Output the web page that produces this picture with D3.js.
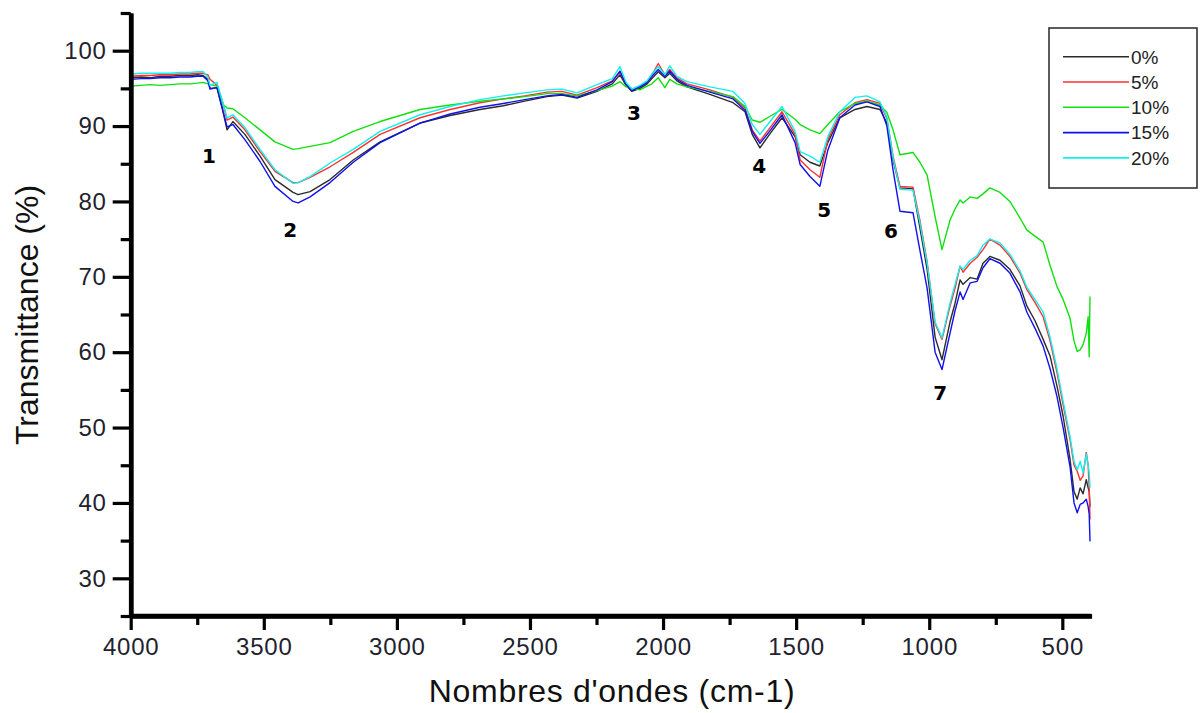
<!DOCTYPE html>
<html>
<head>
<meta charset="utf-8">
<script src="https://cdn.jsdelivr.net/npm/d3@7"></script>
<style>
  body { margin: 0; background: #fff; }
  svg { display: block; }
  .tick text { font-family: "Liberation Sans", Arial, sans-serif; fill: #22222e; }
</style>
</head>
<body>
<div class="ftir-chart"></div>
<script>
// wavenumbers (cm-1), shared by every spectrum
let wavenumbers = [4000, 3960, 3927, 3890, 3852, 3815, 3777, 3750, 3728, 3710, 3702, 3676, 3657, 3638, 3616, 3571, 3514, 3458, 3390, 3371,
  3326, 3251, 3164, 3063, 2913, 2800, 2688, 2600, 2520, 2436, 2380, 2323, 2248, 2191, 2162, 2139, 2117, 2087, 2060, 2042,
  2018, 1993, 1975, 1948, 1910, 1824, 1737, 1692, 1665, 1636, 1598, 1553, 1504, 1485, 1448, 1411, 1381, 1336, 1279, 1234,
  1185, 1159, 1136, 1110, 1061, 1035, 1008, 978, 952, 922, 903, 884, 873, 846, 820, 798, 772, 734, 697, 659,
  633, 603, 572, 546, 520, 497, 471, 456, 444, 433, 422, 410, 403, 399, 396];

let t0 = [96.4, 96.5, 96.4, 96.6, 96.6, 96.7, 96.7, 96.8, 96.7, 96.2, 95.0, 95.1, 92.5, 89.5, 90.6, 88.9, 86.0, 82.9, 81.2, 80.9,
  81.3, 82.9, 85.5, 87.9, 90.4, 91.4, 92.2, 92.7, 93.3, 93.9, 94.1, 93.7, 94.6, 95.6, 96.8, 95.4, 94.6, 95.0, 95.6, 96.3,
  97.2, 96.4, 97.0, 96.0, 95.2, 94.2, 93.1, 91.9, 88.9, 87.1, 89.0, 91.1, 88.6, 86.2, 85.2, 84.7, 87.8, 91.1, 92.2, 92.6,
  92.2, 90.4, 85.5, 81.8, 81.7, 76.5, 71.0, 62.0, 59.0, 64.0, 66.5, 69.6, 69.0, 69.9, 69.7, 71.8, 72.7, 72.2, 71.0, 68.8,
  66.1, 64.2, 61.7, 59.5, 55.5, 51.5, 45.8, 41.5, 40.5, 42.0, 41.2, 43.1, 42.0, 41.5, 39.5];

let t5 = [96.6, 96.7, 96.7, 96.8, 96.8, 96.9, 96.9, 97.0, 97.0, 96.8, 96.2, 95.4, 93.5, 90.8, 91.2, 89.5, 86.6, 84.0, 82.5, 82.5,
  83.2, 84.6, 86.5, 88.9, 91.1, 92.2, 93.1, 93.6, 94.0, 94.5, 94.6, 94.1, 95.1, 96.0, 97.2, 95.6, 94.8, 95.3, 95.9, 96.8,
  98.3, 96.8, 97.5, 96.4, 95.6, 94.8, 93.8, 92.4, 89.5, 88.0, 89.8, 91.9, 88.9, 85.5, 84.2, 83.2, 88.2, 91.5, 93.1, 93.5,
  93.0, 91.0, 86.0, 82.0, 81.9, 77.5, 72.0, 63.8, 61.7, 66.1, 68.5, 71.4, 70.6, 71.8, 72.6, 73.6, 75.0, 74.2, 72.7, 70.5,
  68.3, 66.6, 64.7, 61.5, 57.3, 53.0, 48.4, 45.0, 44.2, 43.0, 43.6, 46.7, 45.0, 42.0, 37.8];

let t10 = [95.3, 95.4, 95.5, 95.4, 95.5, 95.6, 95.6, 95.7, 95.8, 95.6, 95.5, 95.3, 93.0, 92.4, 92.3, 91.1, 89.5, 87.9, 86.9, 87.0,
  87.3, 87.8, 89.3, 90.6, 92.2, 92.8, 93.3, 93.6, 93.9, 94.3, 94.3, 94.0, 94.7, 95.3, 95.9, 95.2, 95.0, 94.8, 95.3, 95.6,
  96.4, 95.1, 96.2, 95.6, 95.2, 94.6, 93.9, 92.6, 90.8, 90.5, 91.3, 92.2, 90.9, 90.2, 89.5, 89.0, 90.2, 91.9, 93.0, 93.3,
  92.8, 91.8, 89.5, 86.2, 86.5, 85.2, 83.5, 78.0, 73.6, 77.5, 79.0, 80.2, 79.8, 80.6, 80.4, 81.0, 81.8, 81.2, 80.0, 77.8,
  76.2, 75.4, 74.6, 71.5, 68.7, 67.0, 64.5, 61.5, 60.1, 60.3, 61.0, 62.5, 64.7, 59.4, 67.4];

let t15 = [96.2, 96.3, 96.3, 96.4, 96.4, 96.5, 96.5, 96.6, 96.6, 96.0, 94.9, 95.1, 92.5, 89.9, 90.2, 88.2, 85.3, 82.0, 80.0, 79.8,
  80.6, 82.5, 85.2, 87.8, 90.4, 91.6, 92.5, 93.0, 93.5, 94.0, 94.2, 93.8, 94.8, 95.9, 97.3, 95.5, 94.7, 95.2, 95.8, 96.6,
  97.5, 96.6, 97.3, 96.2, 95.4, 94.5, 93.6, 92.1, 89.3, 87.7, 89.4, 91.5, 87.8, 84.9, 83.3, 82.0, 86.8, 91.1, 92.8, 93.2,
  92.6, 90.0, 84.2, 78.7, 78.5, 73.5, 68.5, 60.0, 57.7, 62.5, 65.5, 68.0, 67.0, 69.2, 69.4, 71.2, 72.4, 71.8, 70.5, 68.0,
  65.3, 63.2, 60.8, 57.8, 54.1, 50.0, 44.8, 40.0, 38.7, 39.8, 40.0, 40.5, 39.5, 38.5, 34.9];

let t20 = [96.9, 97.0, 97.0, 97.0, 97.0, 97.1, 97.1, 97.2, 97.2, 96.5, 95.4, 95.8, 93.5, 91.1, 91.5, 89.8, 86.9, 84.2, 82.4, 82.5,
  83.3, 85.1, 86.9, 89.3, 91.5, 92.6, 93.5, 94.0, 94.4, 94.8, 94.9, 94.4, 95.5, 96.3, 97.9, 95.8, 94.9, 95.4, 96.0, 96.9,
  97.9, 96.8, 98.0, 96.6, 95.9, 95.2, 94.6, 93.0, 90.2, 88.9, 90.6, 92.6, 89.3, 86.6, 86.0, 85.2, 88.6, 91.9, 93.8, 94.0,
  93.2, 91.2, 85.8, 81.6, 81.5, 77.2, 71.8, 64.0, 61.9, 66.5, 69.0, 71.4, 71.0, 72.2, 72.8, 74.2, 75.0, 74.5, 73.0, 70.8,
  68.6, 67.0, 65.3, 62.0, 57.8, 53.5, 48.8, 45.5, 44.4, 45.5, 44.0, 46.5, 45.0, 44.0, 42.0];

let seriesNames = ["0%", "5%", "10%", "15%", "20%"];
let seriesColors = ["#2b2b2b", "#ff3030", "#10e010", "#1010ee", "#10f0f0"];

let xTicks = [4000, 3500, 3000, 2500, 2000, 1500, 1000, 500];
let xMinorTicks = [3750, 3250, 2750, 2250, 1750, 1250, 750];
let yTicks = [30, 40, 50, 60, 70, 80, 90, 100];
let yMinorTicks = [25, 35, 45, 55, 65, 75, 85, 95, 105];

// band labels: number, wavenumber, transmittance
let bandLabels = ["1", "2", "3", "4", "5", "6", "7"];
let bandWn = [3706, 3401, 2109, 1639, 1395, 1144, 959];
let bandT = [86.0, 76.3, 91.7, 84.7, 78.9, 76.1, 54.6];

let width = 1200,
    height = 713;

let x = d3.scaleLinear().domain([4000, 390]).range([130.7, 1091.6]);
let y = d3.scaleLinear().domain([25, 105]).range([616, 13]);

let svg = d3.select("div.ftir-chart").append("svg")
    .attr("width", width)
    .attr("height", height);

// spectra
let allSeries = [t0, t5, t10, t15, t20];
let line = d3.line()
    .x(function(d) { return x(d[0]); })
    .y(function(d) { return y(d[1]); });

svg.append("g").selectAll("path")
    .data(allSeries)
  .enter().append("path")
    .attr("d", function(s) { return line(s.map(function(v, i) { return [wavenumbers[i], v]; })); })
    .attr("fill", "none")
    .attr("stroke", function(s, i) { return seriesColors[i]; })
    .attr("stroke-width", 1.4)
    .attr("stroke-linejoin", "round");

// axes
let xAxisY = y(25);
let xMinor = svg.append("g")
    .attr("transform", "translate(0," + xAxisY + ")")
    .call(d3.axisBottom(x).tickValues(xMinorTicks).tickSize(9).tickSizeOuter(0).tickFormat(""));
let xMajor = svg.append("g")
    .attr("transform", "translate(0," + xAxisY + ")")
    .call(d3.axisBottom(x).tickValues(xTicks).tickSize(14).tickSizeOuter(0).tickPadding(8).tickFormat(d3.format("d")));

let yMinor = svg.append("g")
    .attr("transform", "translate(" + x(4000) + ",0)")
    .call(d3.axisLeft(y).tickValues(yMinorTicks).tickSize(10).tickSizeOuter(0).tickFormat(""));
let yMajor = svg.append("g")
    .attr("transform", "translate(" + x(4000) + ",0)")
    .call(d3.axisLeft(y).tickValues(yTicks).tickSize(18).tickSizeOuter(0).tickPadding(6));

[xMinor, xMajor, yMinor, yMajor].forEach(function(g) {
  g.select(".domain").attr("stroke", "#000").attr("stroke-width", 4.5);
  g.selectAll(".tick line").attr("stroke", "#000").attr("stroke-width", 3.2);
  g.selectAll(".tick text")
      .style("font-size", "24px")
      .style("letter-spacing", "0.8px");
});
xMajor.select(".domain").attr("d", "M" + x(4000) + ",0H" + x(390));

// axis titles
svg.append("text")
    .attr("x", 612)
    .attr("y", 702)
    .attr("text-anchor", "middle")
    .style("font-family", "Liberation Sans, Arial, sans-serif")
    .style("font-size", "32px")
    .style("letter-spacing", "0.7px")
    .style("fill", "#111")
    .text("Nombres d'ondes (cm-1)");

svg.append("text")
    .attr("transform", "translate(38," + 315 + ") rotate(-90)")
    .attr("text-anchor", "middle")
    .style("font-family", "Liberation Sans, Arial, sans-serif")
    .style("font-size", "32px")
    .style("fill", "#111")
    .text("Transmittance (%)");

// band numbers
svg.append("g").selectAll("text")
    .data(bandLabels)
  .enter().append("text")
    .attr("x", function(d, i) { return x(bandWn[i]); })
    .attr("y", function(d, i) { return y(bandT[i]); })
    .attr("dy", "0.36em")
    .attr("text-anchor", "middle")
    .style("font-family", "DejaVu Sans, sans-serif")
    .style("font-weight", "bold")
    .style("font-size", "20px")
    .style("fill", "#000")
    .text(function(d) { return d; });

// legend
let legend = svg.append("g").attr("transform", "translate(1049,28)");
legend.append("rect")
    .attr("width", 148)
    .attr("height", 160)
    .attr("fill", "#fff")
    .attr("stroke", "#333")
    .attr("stroke-width", 1.6);

let item = legend.selectAll(".item")
    .data(seriesNames)
  .enter().append("g")
    .attr("class", "item")
    .attr("transform", function(d, i) { return "translate(0," + (28.7 + i * 25.3) + ")"; });

item.append("line")
    .attr("x1", 14)
    .attr("x2", 80)
    .attr("stroke", function(d, i) { return seriesColors[i]; })
    .attr("stroke-width", 1.6);

item.append("text")
    .attr("x", 82)
    .attr("dy", "0.36em")
    .style("font-family", "Liberation Sans, Arial, sans-serif")
    .style("font-size", "19px")
    .style("fill", "#222")
    .text(function(d) { return d; });
</script>
</body>
</html>
